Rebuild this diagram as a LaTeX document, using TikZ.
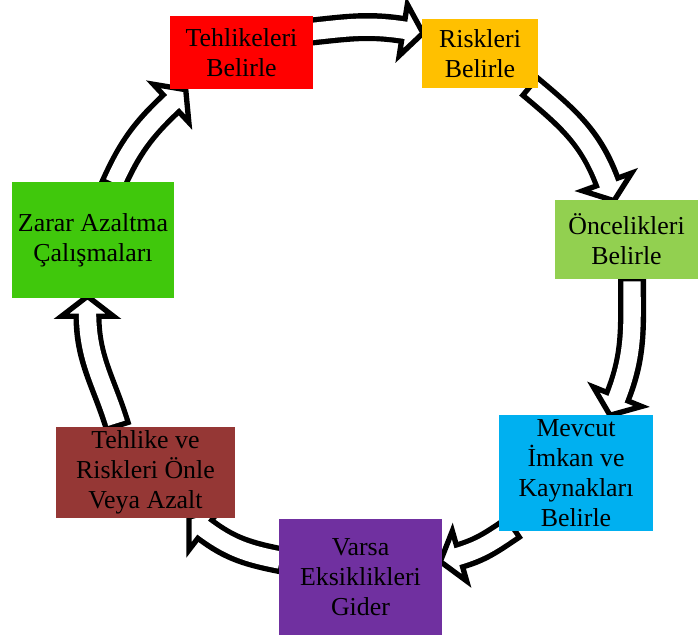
\documentclass[tikz,border=0pt]{standalone}
\usepackage{fontspec}
\setmainfont{Liberation Serif}
\usetikzlibrary{calc,backgrounds}
\definecolor{kirmizi}{HTML}{FF0000}
\definecolor{turuncu}{HTML}{FFC000}
\definecolor{acikyesil}{HTML}{92D050}
\definecolor{mavi}{HTML}{00B0F0}
\definecolor{mor}{HTML}{7030A0}
\definecolor{kahve}{HTML}{953735}
\definecolor{yesil}{HTML}{40C80C}
\tikzset{
	kutu/.style 2 args={inner sep=0pt, align=center, minimum width=#1*0.75pt, minimum height=#2*0.75pt, font=\fontsize{19.4}{22.5}\selectfont},
}
% block arrow: start, tip, out angle, head angle
\newcommand{\blokok}[4]{%
	\pgfmathsetmacro\gelis{#4+180}
	\coordinate (hb) at ($(#2)+(\gelis:20)$);
	\draw[line width=21pt, shorten <=-4pt] (#1) to[out=#3,in=\gelis] (hb);
	\draw[fill=white, line width=4pt] ($(hb)+(#4+90:26)$) -- (#2) -- ($(hb)+(#4-90:26)$) -- cycle;
	\draw[line width=13pt, white, shorten >=-3.5pt] (#1) to[out=#3,in=\gelis] (hb);
}
\begin{document}
\begin{tikzpicture}[x=0.75pt,y=0.75pt]
	\useasboundingbox (0,0) rectangle (698,-640);
	\node[kutu={143}{73}, fill=kirmizi] (tehlike) at (241.5,-52.5) {Tehlikeleri\\Belirle};
	\node[kutu={116}{69}, fill=turuncu] (risk) at (480,-53.5) {Riskleri\\Belirle};
	\node[kutu={143}{79}, fill=acikyesil] (oncelik) at (626.5,-239.5) {Öncelikleri\\Belirle};
	\node[kutu={154}{116}, fill=mavi] (imkan) at (576,-473) {Mevcut\\İmkan ve\\Kaynakları\\Belirle};
	\node[kutu={163}{116}, fill=mor] (eksik) at (360.5,-577) {Varsa\\Eksiklikleri\\Gider};
	\node[kutu={179}{91}, fill=kahve] (onle) at (145.5,-472.5) {Tehlike ve\\Riskleri Önle\\Veya Azalt};
	\node[kutu={162}{116}, fill=yesil] (zarar) at (93,-240) {Zarar Azaltma\\Çalışmaları};
	\coordinate (s1) at ($(tehlike.east)+(-1.5,21)$);
	\coordinate (t1) at ($(risk.west)+(1.3,20.4)$);
	\coordinate (s2) at ($(risk.south east)+(-6,0)$);
	\coordinate (t2) at ($(oncelik.north)+(-12.5,-1)$);
	\coordinate (s3) at ($(oncelik.south)+(5.5,-2)$);
	\coordinate (t3) at ($(imkan.north)+(34,-0.5)$);
	\coordinate (s4) at ($(imkan.south west)+(12,2)$);
	\coordinate (t4) at ($(eksik.east)+(-2,15.5)$);
	\coordinate (s5) at ($(eksik.west)+(1,17)$);
	\coordinate (t5) at ($(onle.south east)+(-46.3,1.2)$);
	\coordinate (s6) at ($(onle.north)+(-29,3.5)$);
	\coordinate (t6) at ($(zarar.south)+(-5.5,2)$);
	\coordinate (s7) at ($(zarar.north)+(21,-1)$);
	\coordinate (t7) at ($(tehlike.south west)+(16,-0.4)$);
	\begin{scope}[on background layer]
		\foreach \bas/\uc/\cikis/\yon in {s1/t1/6/-9, s2/t2/-40/-70, s3/t3/-90/-112, s4/t4/-146/196, s5/t5/169/142.5, s6/t6/107/90, s7/t7/66/43}
		{\blokok{\bas}{\uc}{\cikis}{\yon}}
	\end{scope}
\end{tikzpicture}
\end{document}
